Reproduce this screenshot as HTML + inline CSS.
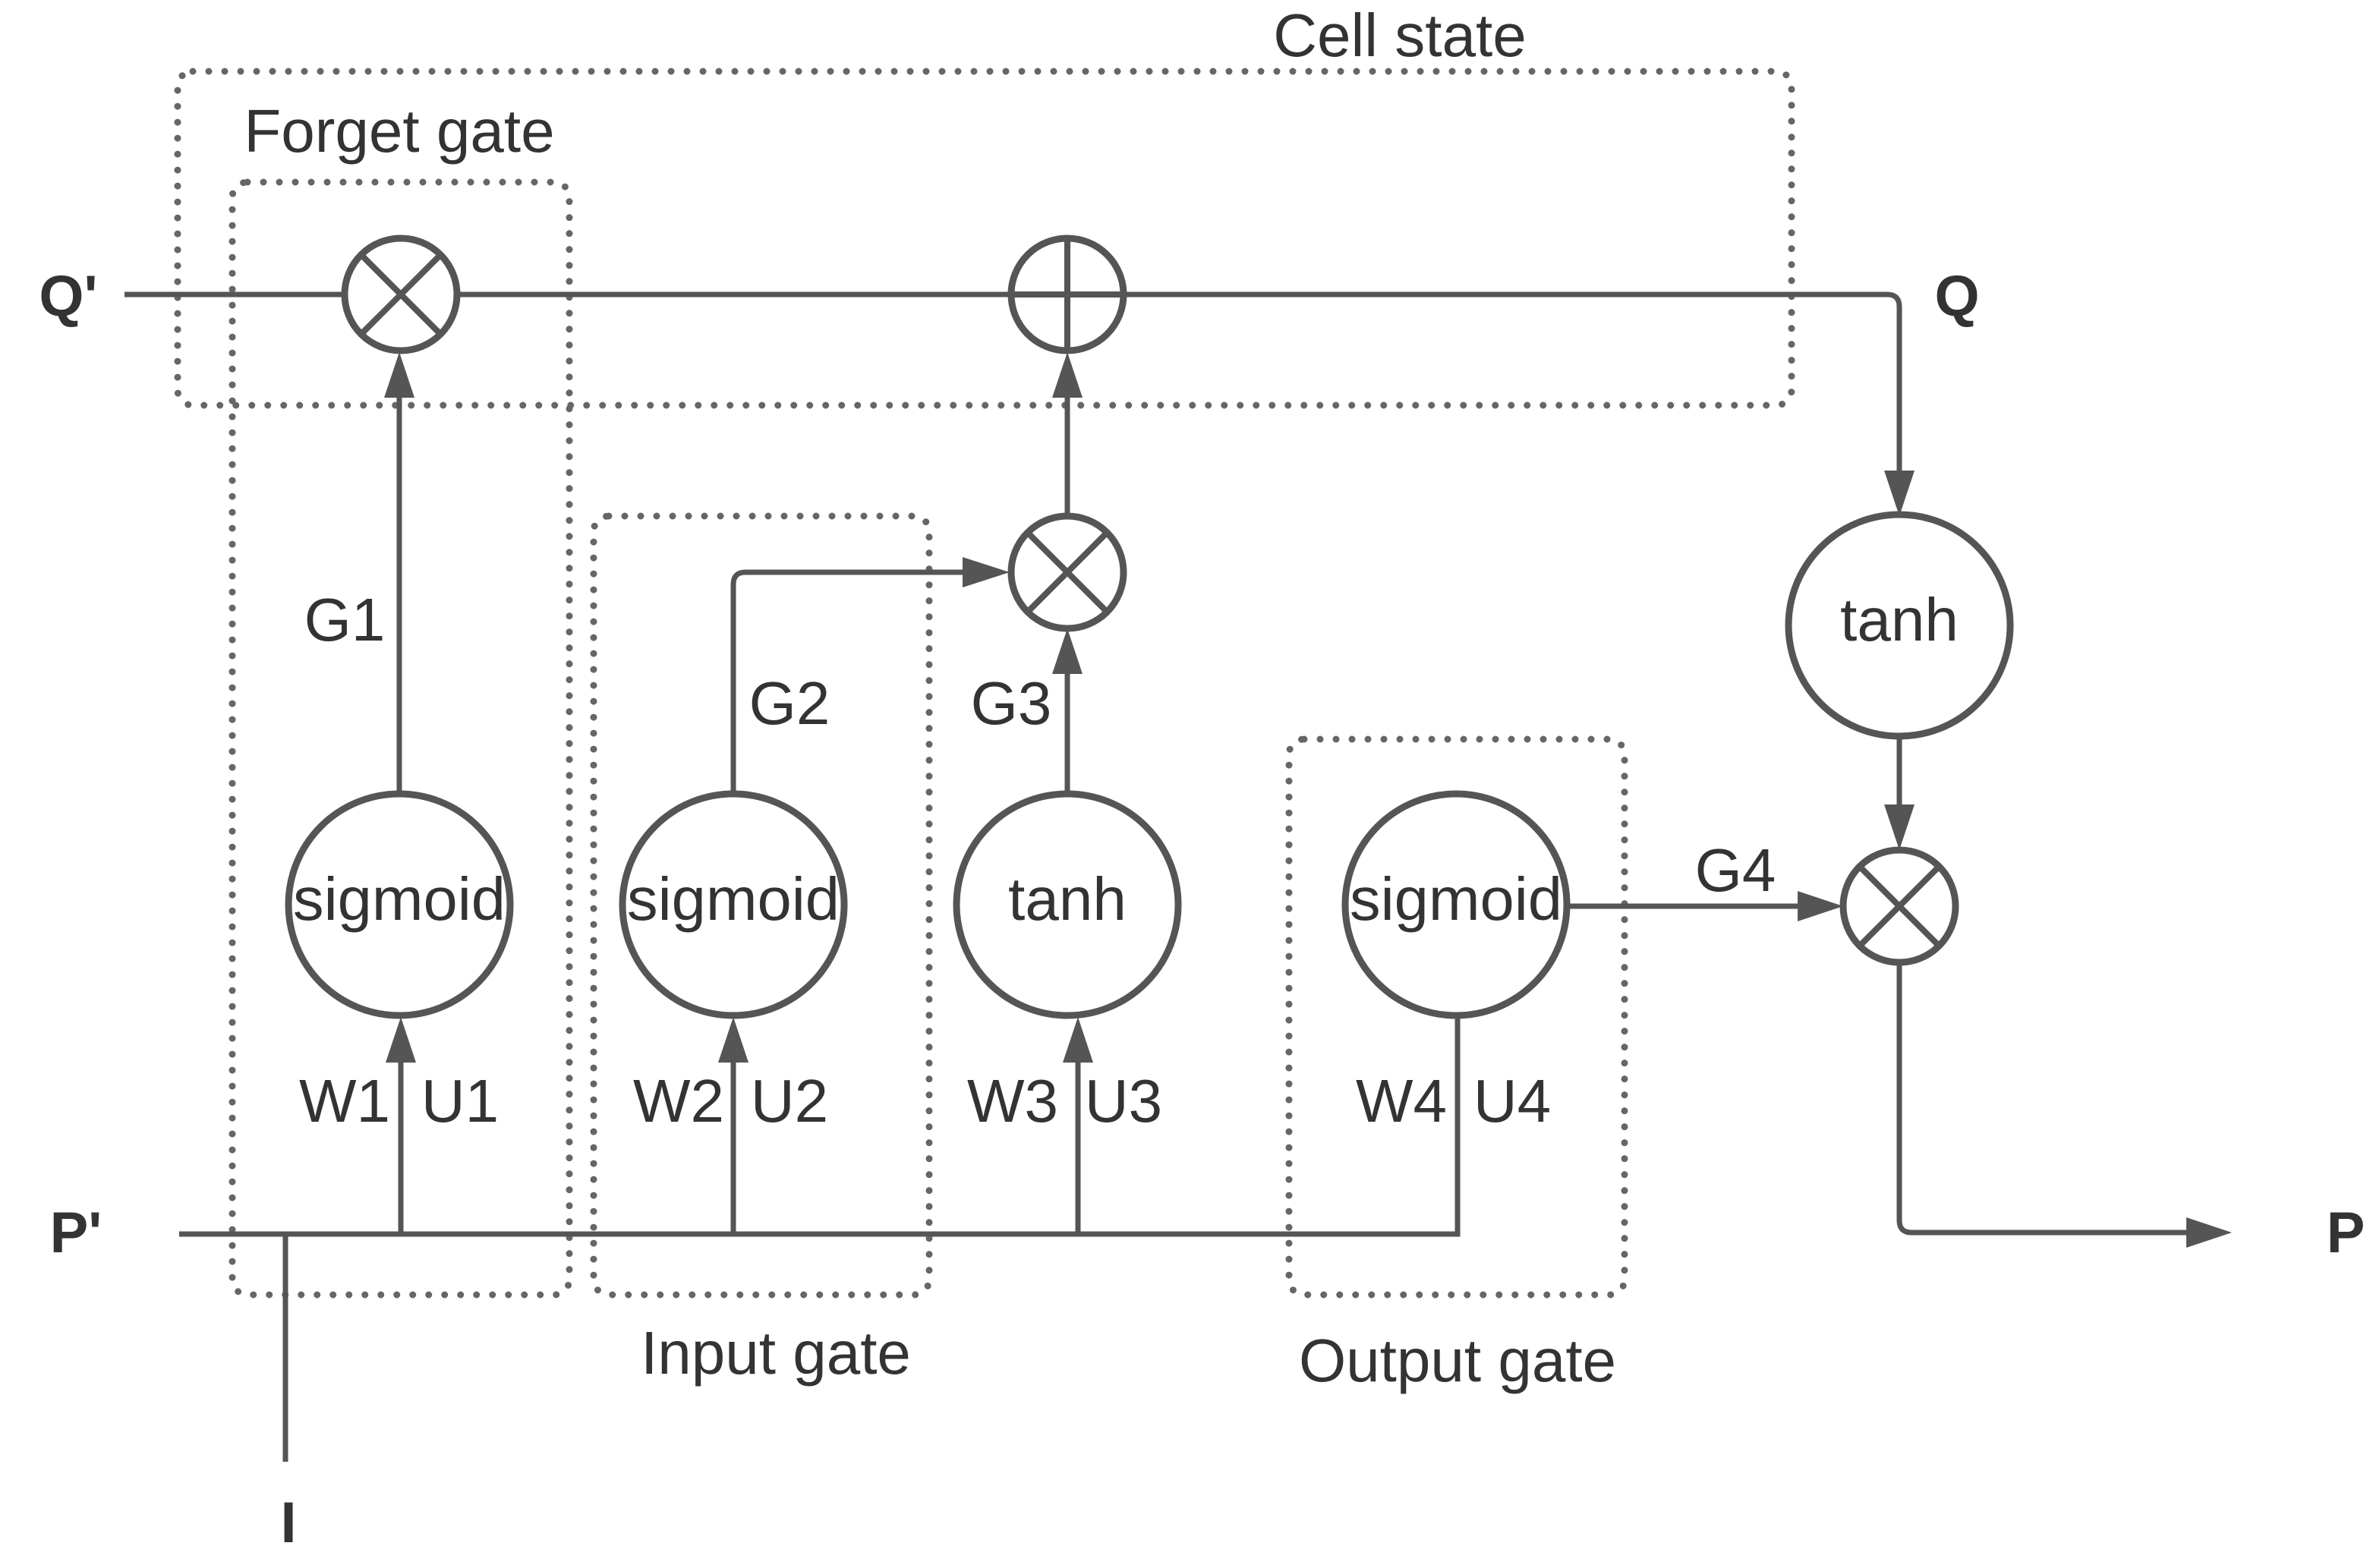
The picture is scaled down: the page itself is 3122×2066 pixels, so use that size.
<!DOCTYPE html>
<html><head><meta charset="utf-8"><style>
html,body{margin:0;padding:0;background:#fff;}
svg{display:block;}
text{font-family:"Liberation Sans",sans-serif;fill:#333;}
</style></head><body>
<svg width="3122" height="2066" viewBox="0 0 1561 1033" xmlns="http://www.w3.org/2000/svg">
<g fill="none" stroke="#666" stroke-width="4.5" stroke-linecap="round" stroke-dasharray="0 10.5">
<rect x="117" y="47" width="1063" height="220" rx="10"/>
<rect x="153" y="120" width="222" height="733" rx="10"/>
<rect x="391" y="340" width="221" height="513" rx="10"/>
<rect x="849" y="487" width="221" height="366" rx="10"/>
</g>
<g fill="none" stroke="#555" stroke-width="3.5">
<path d="M82 194H1243Q1251 194 1251 202V318"/>
<path d="M263 523V262"/>
<path d="M483 523V385Q483 377 491 377H640"/>
<path d="M703 523V438"/>
<path d="M703 340V262"/>
<path d="M1033 597H1190"/>
<path d="M1251 485V538"/>
<path d="M1251 634V804Q1251 812 1259 812H1446"/>
<path d="M118 813H960V670"/>
<path d="M264 813V700"/>
<path d="M483 813V700"/>
<path d="M710 813V700"/>
<path d="M188 813V963"/>
</g>
<g fill="#555">
<path d="M253 262L263 232L273 262Z"/>
<path d="M693 262L703 232L713 262Z"/>
<path d="M693 444L703 414L713 444Z"/>
<path d="M634 367L665 377L634 387Z"/>
<path d="M1184 587L1214 597L1184 607Z"/>
<path d="M1241 310L1251 340L1261 310Z"/>
<path d="M1241 530L1251 560L1261 530Z"/>
<path d="M1440 802L1470 812L1440 822Z"/>
<path d="M254 700L264 670L274 700Z"/>
<path d="M473 700L483 670L493 700Z"/>
<path d="M700 700L710 670L720 700Z"/>
</g>
<g fill="#fff" stroke="#555" stroke-width="4.5">
<circle cx="264" cy="194" r="37"/>
<circle cx="703" cy="194" r="37"/>
<circle cx="703" cy="377" r="37"/>
<circle cx="1251" cy="597" r="37"/>
<circle cx="263" cy="596" r="73"/>
<circle cx="483" cy="596" r="73"/>
<circle cx="703" cy="596" r="73"/>
<circle cx="959" cy="596" r="73"/>
<circle cx="1251" cy="412" r="73"/>
</g>
<g stroke="#555" stroke-width="4">
<path d="M238 168L290 220M290 168L238 220"/>
<path d="M677 351L729 403M729 351L677 403"/>
<path d="M1225 571L1277 623M1277 571L1225 623"/>
<path d="M666 194H740M703 157V231"/>
</g>
<g font-size="40" text-anchor="middle">
<text x="922" y="37">Cell state</text>
<text x="263" y="100">Forget gate</text>
<text x="511" y="905">Input gate</text>
<text x="960" y="910">Output gate</text>
<text x="263" y="606" textLength="140" lengthAdjust="spacingAndGlyphs">sigmoid</text>
<text x="483" y="606" textLength="140" lengthAdjust="spacingAndGlyphs">sigmoid</text>
<text x="703" y="606">tanh</text>
<text x="959" y="606" textLength="140" lengthAdjust="spacingAndGlyphs">sigmoid</text>
<text x="1251" y="422">tanh</text>
<text x="227" y="422">G1</text>
<text x="520" y="477">G2</text>
<text x="666" y="477">G3</text>
<text x="1143" y="587">G4</text>
<text x="227" y="739">W1</text>
<text x="303" y="739">U1</text>
<text x="447" y="739">W2</text>
<text x="520" y="739">U2</text>
<text x="667" y="739">W3</text>
<text x="740" y="739">U3</text>
<text x="923" y="739">W4</text>
<text x="996" y="739">U4</text>
</g>
<g font-size="38" font-weight="bold" text-anchor="middle">
<text x="45" y="208">Q'</text>
<text x="1289" y="208">Q</text>
<text x="50" y="825">P'</text>
<text x="1545" y="825">P</text>
<text x="190" y="1016">I</text>
</g>
</svg>
</body></html>
